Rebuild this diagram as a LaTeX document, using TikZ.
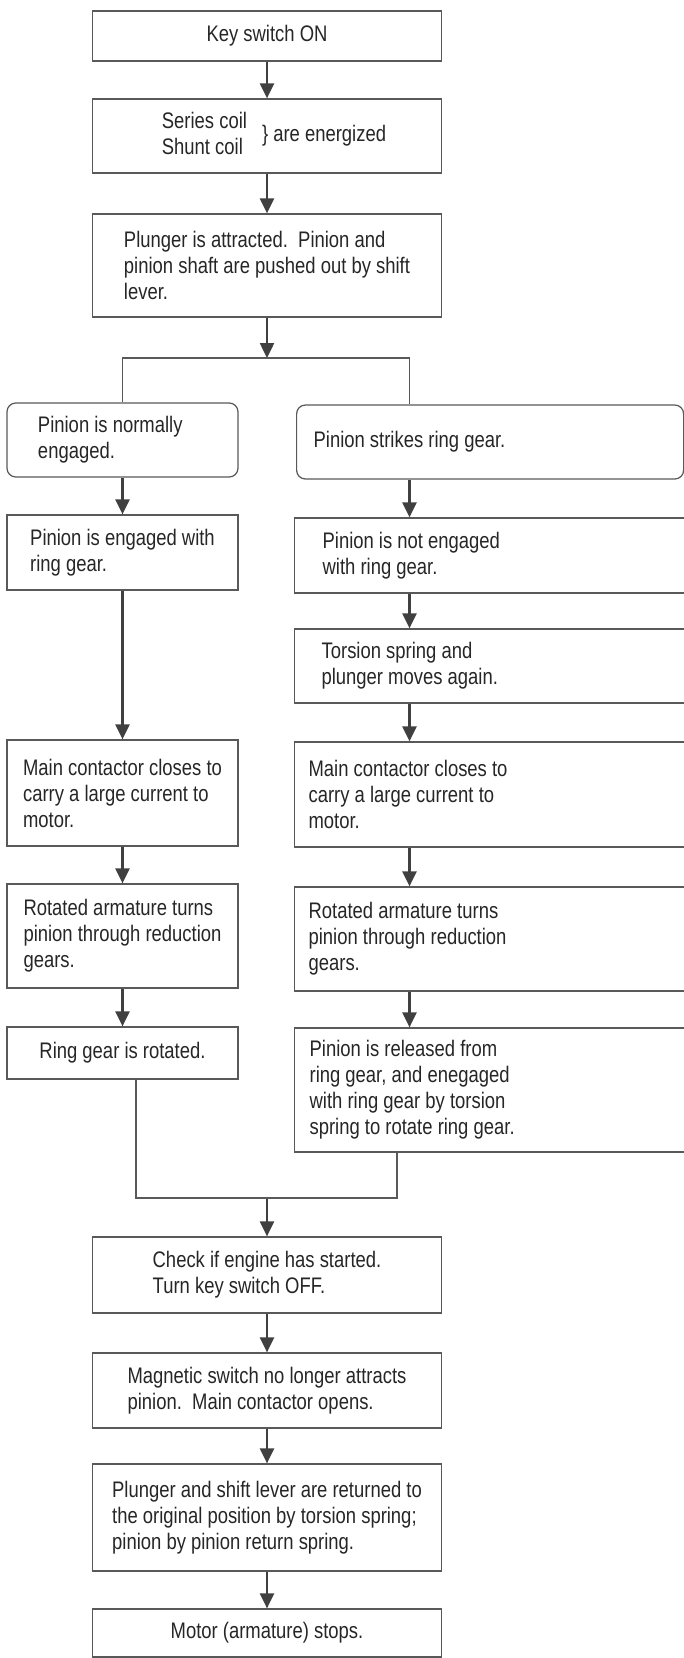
\documentclass[tikz,border=0pt]{standalone}
\usepackage{fontspec}
\setmainfont{Liberation Sans}[FakeStretch=0.82]
\usetikzlibrary{arrows.meta}

\begin{document}
\begin{tikzpicture}[
  font=\fontsize{12.8}{14.8}\selectfont,
  box/.style={rectangle, draw=black!65, line width=0.7pt, text=black!85,
    align=left, inner sep=0pt},
  cbox/.style={box, minimum width=6.98cm},
  lbox/.style={box, minimum width=4.62cm},
  rbox/.style={box, anchor=west, text width=7.6cm, align=flush left},
  arr/.style={draw=black!75, line width=1.4pt,
    -{Triangle[length=0.3cm,width=0.28cm]}},
  line/.style={draw=black!65, line width=0.7pt}]
  \useasboundingbox (0,0) rectangle (13.68,-33.16);
  \clip (0,0) rectangle (13.68,-33.16);

  % main column, top
  \node[cbox, minimum height=1.00cm] (key) at (5.34,-0.72) {Key switch ON};
  \node[cbox, minimum height=1.48cm] (coil) at (5.34,-2.72)
    {\hspace*{0.28cm}\begin{tabular}{@{}l@{}}Series coil\\Shunt coil\end{tabular}\hspace{0.3cm}\} are energized};
  \node[cbox, minimum height=2.06cm] (plng) at (5.34,-5.31)
    {Plunger is attracted.\ \ Pinion and\\pinion shaft are pushed out by shift\\lever.};

  % left branch
  \node[lbox, rounded corners=5pt, minimum height=1.48cm, inner xsep=0.62cm,
    text width=3.38cm, align=flush left] (norm) at (2.45,-8.80)
    {Pinion is normally\\engaged.};
  \node[lbox, minimum height=1.50cm] (eng) at (2.45,-11.05)
    {Pinion is engaged with\\ring gear.};
  \node[lbox, minimum height=2.12cm] (lmain) at (2.45,-15.86)
    {Main contactor closes to\\carry a large current to\\motor.};
  \node[lbox, minimum height=2.08cm] (lrot) at (2.45,-18.72)
    {Rotated armature turns\\pinion through reduction\\gears.};
  \node[lbox, minimum height=1.04cm] (lring) at (2.45,-21.06)
    {Ring gear is rotated.};

  % right branch
  \node[rbox, rounded corners=5pt, minimum height=1.48cm, inner xsep=0.34cm,
    text width=7.06cm] (strike) at (5.92,-8.84) {Pinion strikes ring gear.};
  \node[rbox, minimum height=1.50cm, inner xsep=0.56cm] (noteng) at (5.88,-11.11)
    {Pinion is not engaged\\with ring gear.};
  \node[rbox, minimum height=1.48cm, inner xsep=0.54cm] (tors) at (5.88,-13.32)
    {Torsion spring and\\plunger moves again.};
  \node[rbox, minimum height=2.10cm, inner xsep=0.28cm] (rmain) at (5.88,-15.89)
    {Main contactor closes to\\carry a large current to\\motor.};
  \node[rbox, minimum height=2.08cm, inner xsep=0.28cm] (rrot) at (5.88,-18.78)
    {Rotated armature turns\\pinion through reduction\\gears.};
  \node[rbox, minimum height=2.48cm, inner xsep=0.30cm] (rel) at (5.88,-21.80)
    {Pinion is released from\\ring gear, and enegaged\\with ring gear by torsion\\spring to rotate ring gear.};

  % main column, bottom
  \node[cbox, minimum height=1.52cm] (chk) at (5.34,-25.50)
    {Check if engine has started.\\Turn key switch OFF.};
  \node[cbox, minimum height=1.50cm] (mag) at (5.34,-27.81)
    {Magnetic switch no longer attracts\\pinion.\ \ Main contactor opens.};
  \node[cbox, minimum height=2.14cm] (ret) at (5.34,-30.35)
    {Plunger and shift lever are returned to\\the original position by torsion spring;\\pinion by pinion return spring.};
  \node[cbox, minimum height=0.96cm] (stop) at (5.34,-32.66)
    {Motor (armature) stops.};

  \coordinate (split) at (5.34,-7.16);
  \coordinate (join) at (5.34,-23.96);
  \coordinate (rx) at (8.19,0);
  \coordinate (lx) at (2.72,0);
  \coordinate (rj) at (7.94,0);

  \foreach \a/\b in {key/coil, coil/plng, plng/split, norm/eng, eng/lmain,
      lmain/lrot, lrot/lring, join/chk, chk/mag, mag/ret, ret/stop}
    \draw[arr] (\a) -- (\b);
  \foreach \a/\b in {strike/noteng, noteng/tors, tors/rmain, rmain/rrot, rrot/rel}
    \draw[arr] (\a.south -| rx) -- (\b.north -| rx);

  \draw[line] (norm.north) |- (split) -| (strike.north -| rx);
  \draw[line] (lring.south -| lx) |- (join) -| (rel.south -| rj);
\end{tikzpicture}
\end{document}
